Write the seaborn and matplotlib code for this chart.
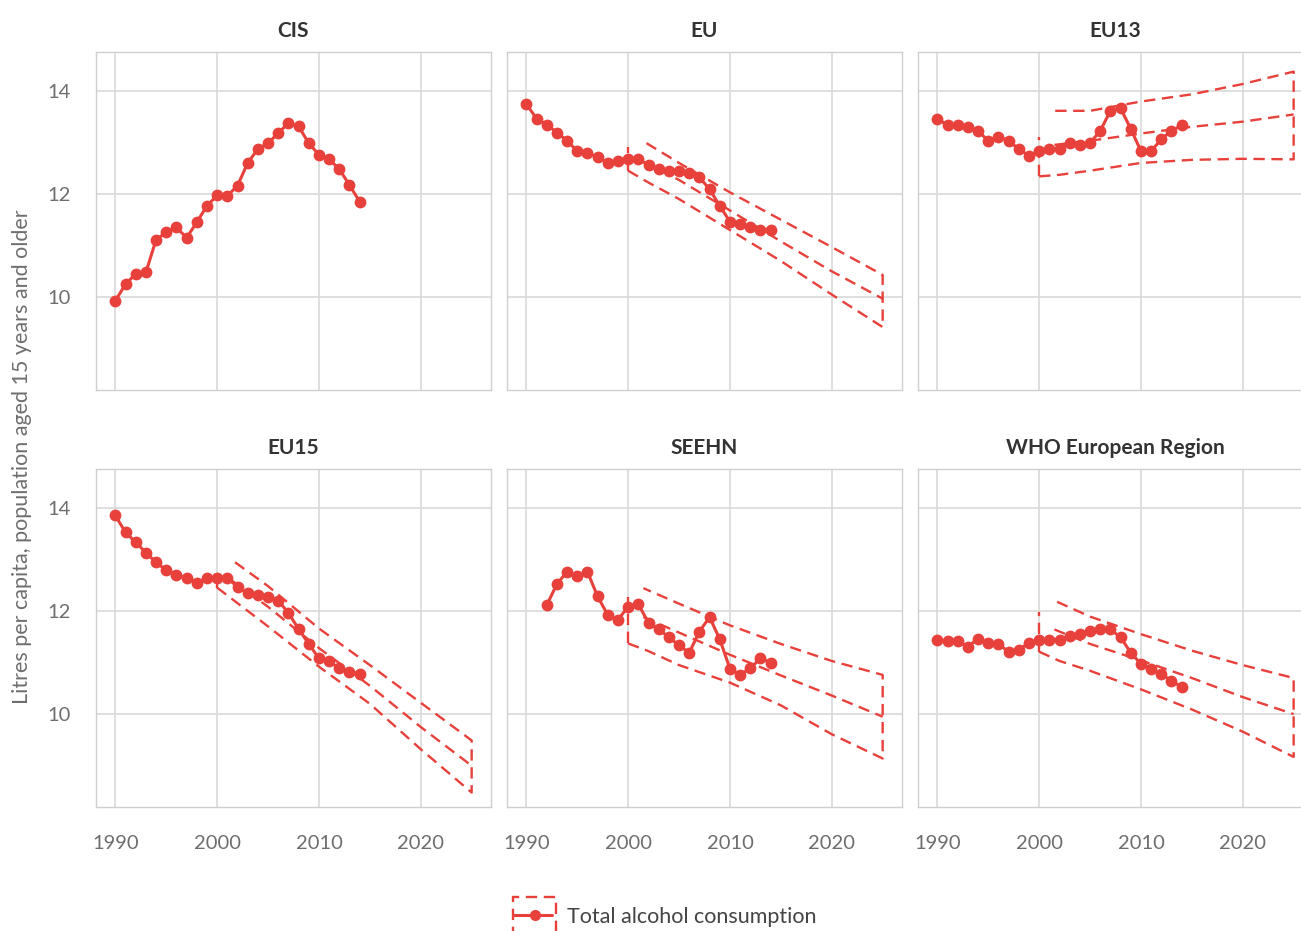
import numpy as np
import pandas as pd
import matplotlib
matplotlib.use("Agg")
import matplotlib.pyplot as plt
import seaborn as sns
from matplotlib.legend_handler import HandlerBase
from matplotlib.lines import Line2D
from matplotlib.patches import Rectangle

# ---------------------------------------------------------------- data
regions = ["CIS", "EU", "EU13", "EU15", "SEEHN", "WHO European Region"]

years_full = list(range(1990, 2015))
years_seehn = list(range(1992, 2015))

cis = [9.93, 10.25, 10.45, 10.48, 11.11, 11.26, 11.35, 11.15, 11.45, 11.77,
       11.97, 11.96, 12.16, 12.60, 12.87, 12.98, 13.18, 13.37, 13.31, 12.98,
       12.76, 12.67, 12.48, 12.17, 11.85]
eu = [13.74, 13.46, 13.34, 13.19, 13.03, 12.83, 12.80, 12.71, 12.60, 12.64,
      12.68, 12.68, 12.56, 12.48, 12.45, 12.44, 12.40, 12.32, 12.09, 11.77,
      11.46, 11.42, 11.35, 11.30, 11.30]
eu13 = [13.46, 13.33, 13.33, 13.30, 13.22, 13.03, 13.11, 13.03, 12.87, 12.74,
        12.84, 12.87, 12.87, 12.98, 12.94, 12.99, 13.22, 13.61, 13.66, 13.26,
        12.83, 12.83, 13.06, 13.22, 13.33]
eu15 = [13.85, 13.52, 13.33, 13.13, 12.94, 12.79, 12.70, 12.63, 12.55, 12.63,
        12.63, 12.63, 12.47, 12.34, 12.30, 12.27, 12.20, 11.96, 11.65, 11.36,
        11.08, 11.02, 10.89, 10.82, 10.78]
seehn = [12.11, 12.52, 12.76, 12.67, 12.76, 12.28, 11.92, 11.83, 12.08, 12.13,
         11.77, 11.64, 11.49, 11.33, 11.19, 11.60, 11.88, 11.45, 10.88, 10.76,
         10.89, 11.08, 11.00]
who_europe = [11.44, 11.41, 11.41, 11.31, 11.46, 11.38, 11.36, 11.21, 11.25, 11.38,
              11.44, 11.44, 11.44, 11.52, 11.56, 11.61, 11.64, 11.64, 11.49, 11.19,
              10.97, 10.88, 10.77, 10.65, 10.52]

# projection to 2025: upper bound, central trend, lower bound
proj_years = [2001.5, 2005, 2010, 2015, 2020, 2025]
proj_lower_years = [2000, 2002, 2005, 2010, 2015, 2020, 2025]
proj_start_year = 2000

eu_upper = [13.02, 12.60, 12.03, 11.50, 10.97, 10.43]
eu_central = [12.62, 12.27, 11.68, 11.08, 10.50, 9.97]
eu_lower = [12.45, 12.22, 11.90, 11.30, 10.70, 10.05, 9.42]
eu_start_top = 12.90

eu13_upper = [13.61, 13.61, 13.79, 13.93, 14.13, 14.37]
eu13_central = [12.95, 13.03, 13.17, 13.30, 13.40, 13.54]
eu13_lower = [12.34, 12.37, 12.45, 12.60, 12.66, 12.68, 12.67]
eu13_start_top = 13.11

eu15_upper = [12.98, 12.48, 11.66, 10.95, 10.22, 9.49]
eu15_central = [12.58, 12.08, 11.28, 10.55, 9.75, 9.00]
eu15_lower = [12.45, 12.15, 11.70, 10.92, 10.20, 9.32, 8.48]
eu15_start_top = 12.62

seehn_upper = [12.44, 12.14, 11.72, 11.36, 11.03, 10.76]
seehn_central = [11.88, 11.58, 11.15, 10.75, 10.36, 9.95]
seehn_lower = [11.37, 11.22, 10.95, 10.61, 10.17, 9.61, 9.14]
seehn_start_top = 12.26

who_upper = [12.20, 11.89, 11.55, 11.23, 10.95, 10.70]
who_central = [11.64, 11.36, 11.04, 10.70, 10.33, 10.00]
who_lower = [11.21, 11.03, 10.84, 10.48, 10.09, 9.66, 9.17]
who_start_top = 11.97

x_ticks = [1990, 2000, 2010, 2020]
y_ticks = [10, 12, 14]
legend_label = "Total alcohol consumption"
y_label = "Litres per capita, population aged 15 years and older"

series = {
    "CIS": (years_full, cis, None),
    "EU": (years_full, eu, (eu_upper, eu_central, eu_lower, eu_start_top)),
    "EU13": (years_full, eu13, (eu13_upper, eu13_central, eu13_lower, eu13_start_top)),
    "EU15": (years_full, eu15, (eu15_upper, eu15_central, eu15_lower, eu15_start_top)),
    "SEEHN": (years_seehn, seehn, (seehn_upper, seehn_central, seehn_lower, seehn_start_top)),
    "WHO European Region": (years_full, who_europe,
                            (who_upper, who_central, who_lower, who_start_top)),
}

# ---------------------------------------------------------------- style
RED = "#e8403a"
GRID = "#d9d9d9"
FRAME = "#cfcfcf"
TICK = "#6e6e6e"
TITLE = "#333333"
DASH = (0, (4.8, 2.8))
FONT = ["Lato", "DejaVu Sans"]

sns.set_theme(style="whitegrid")
plt.rcParams["font.family"] = FONT

W, H = 1301, 931
fig = plt.figure(figsize=(W / 100, H / 100), dpi=100)

col_left = [96, 507, 918]
row_top = [52, 469]
pw, ph = 395, 338


def dashed(ax, x, y):
    frame = pd.DataFrame({"year": x, "value": y})
    sns.lineplot(data=frame, x="year", y="value", sort=False, estimator=None,
                 ax=ax, color=RED, linewidth=1.7, linestyle=DASH, zorder=3)


for i, name in enumerate(regions):
    r, c = divmod(i, 3)
    ax = fig.add_axes([col_left[c] / W, 1 - (row_top[r] + ph) / H, pw / W, ph / H])
    yrs, vals, band = series[name]

    if band is not None:
        up, mid, lo, top = band
        # bound outline: lower edge forward, closing edge at 2025, upper edge back
        dashed(ax, proj_lower_years + proj_years[::-1], lo + up[::-1])
        dashed(ax, proj_years, mid)
        dashed(ax, [proj_start_year, proj_start_year], [lo[0], top])

    sns.lineplot(x=yrs, y=vals, ax=ax, color=RED, linewidth=2.2, marker="o",
                 markersize=8.5, markeredgewidth=0, zorder=5)

    ax.set_xlim(1988.1, 2026.9)
    ax.set_ylim(8.2, 14.75)
    ax.set_xticks(x_ticks)
    ax.set_yticks(y_ticks)
    ax.set_xlabel("")
    ax.set_ylabel("")
    ax.grid(True, color=GRID, linewidth=1.2)
    for s in ax.spines.values():
        s.set_color(FRAME)
        s.set_linewidth(1.0)
    ax.tick_params(length=0, labelsize=14.5, labelcolor=TICK)
    ax.tick_params(axis="x", pad=20)
    ax.tick_params(axis="y", pad=18)
    if r == 0:
        ax.tick_params(labelbottom=False)
    if c > 0:
        ax.tick_params(labelleft=False)
    ax.set_title(name, fontsize=15, fontweight="bold", color=TITLE, pad=11)

fig.text(22 / W, 1 - 457 / H, y_label, rotation=90, ha="center", va="center",
         fontsize=15.5, color=TICK)


class BandHandler(HandlerBase):
    def create_artists(self, legend, orig_handle, xdescent, ydescent,
                       width, height, fontsize, trans):
        cy = height / 2 - ydescent
        x0 = -xdescent
        box = Rectangle((x0, cy - height * 1.25), width, height * 2.5, fill=False,
                        edgecolor=RED, linewidth=1.7, linestyle=DASH, transform=trans)
        line = Line2D([x0, x0 + width * 0.9], [cy, cy], color=RED, linewidth=2.2,
                      transform=trans)
        dot = Line2D([x0 + width * 0.5], [cy], marker="o", markersize=8,
                     markeredgewidth=0, color=RED, linestyle="none", transform=trans)
        return [box, line, dot]


proxy = Line2D([], [], color=RED)
fig.legend([proxy], [legend_label], handler_map={Line2D: BandHandler()},
           loc="center", bbox_to_anchor=(665 / W, 1 - 917 / H), frameon=False,
           fontsize=15.5, handlelength=2.0, handletextpad=0.5, labelcolor="#444444")

fig.savefig("out.png", dpi=100)
